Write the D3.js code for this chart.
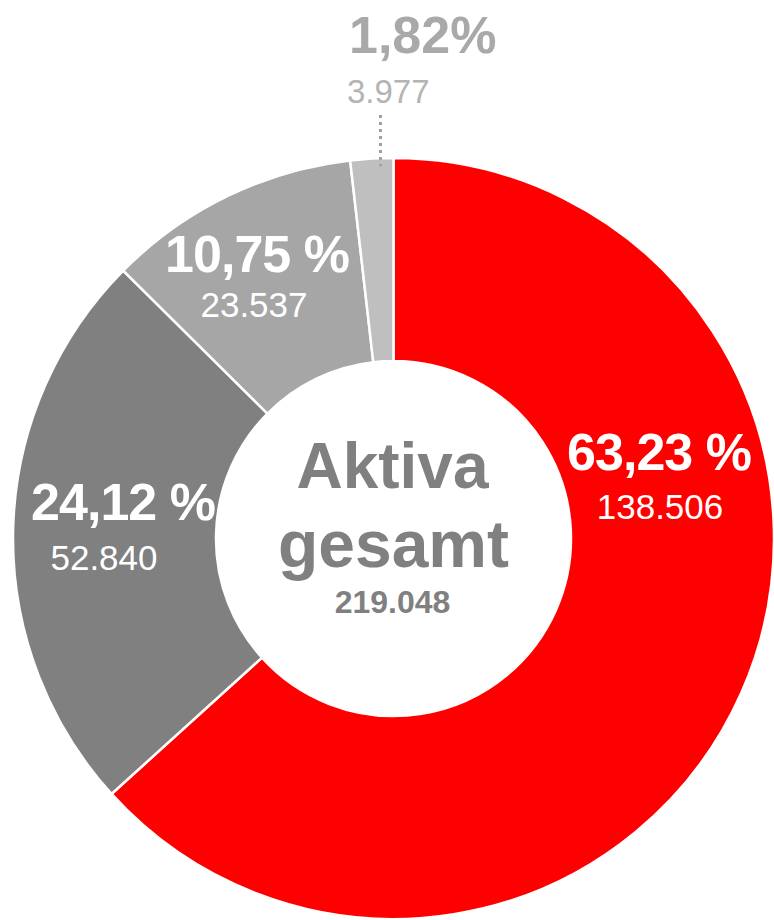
<!DOCTYPE html>
<html>
<head>
<meta charset="utf-8">
<script src="https://cdn.jsdelivr.net/npm/d3@7"></script>
<style>
  body { margin: 0; background: #fff; }
  text { font-family: "Liberation Sans", Arial, Helvetica, sans-serif; }
</style>
</head>
<body>
<div id="chart"></div>
<script>
var svgWidth = 774;
var svgHeight = 920;

// data
var values = [138506, 52840, 23537, 3977];
var percentLabels = ["63,23 %", "24,12 %", "10,75 %", "1,82%"];
var valueLabels = ["138.506", "52.840", "23.537", "3.977"];
var centerTitle = ["Aktiva", "gesamt"];
var centerTotal = "219.048";

var colors = ["#ff0000", "#808080", "#a6a6a6", "#bfbfbf"];

// label placement (percent line, value line)
var labelLayout = [
    { px: 659, py: 470, vx: 660, vy: 519, anchor: "middle", pc: "#fff", vc: "#fff" },
    { px: 123, py: 520, vx: 104, vy: 570, anchor: "middle", pc: "#fff", vc: "#fff" },
    { px: 257, py: 272, vx: 254, vy: 317, anchor: "middle", pc: "#fff", vc: "#fff" },
    { px: 349, py: 53, vx: 347, vy: 103, anchor: "start", pc: "#a9a9a9", vc: "#b4b4b4" }
];

var cx = 393.5, cy = 538.5;
var outerR = 380.5, innerR = 177.5;

var svg = d3.select("#chart")
    .append("svg")
    .attr("width", svgWidth)
    .attr("height", svgHeight);

var chartGroup = svg.append("g")
    .attr("transform", `translate(${cx},${cy})`);

var pie = d3.pie().sort(null).value(d => d);
var arc = d3.arc().innerRadius(innerR).outerRadius(outerR);
var arcs = pie(values);

chartGroup.selectAll("path")
    .data(arcs)
    .enter()
    .append("path")
    .attr("d", arc)
    .attr("fill", (d, i) => colors[i])
    .attr("stroke", "#fff")
    .attr("stroke-width", 2.5)
    .attr("stroke-linejoin", "miter");

// dotted leader for the small slice
var small = arcs[3];
var leaderAngle = small.startAngle + (small.endAngle - small.startAngle) * 0.7;
var lx = Math.round(cx + Math.sin(leaderAngle) * outerR) + 0.5;
var ly = cy - Math.cos(leaderAngle) * outerR;
svg.append("line")
    .attr("x1", lx).attr("x2", lx)
    .attr("y1", 115).attr("y2", ly + 8)
    .attr("stroke", "#a0a0a0")
    .attr("stroke-width", 3)
    .attr("stroke-dasharray", "3,4");

// slice labels
labelLayout.forEach(function(l, i) {
    svg.append("text")
        .attr("x", l.px).attr("y", l.py)
        .attr("text-anchor", l.anchor)
        .attr("fill", l.pc)
        .attr("font-size", i === 3 ? 52 : 52)
        .attr("font-weight", "bold")
        .attr("letter-spacing", i === 3 ? 0 : -1)
        .text(percentLabels[i]);
    svg.append("text")
        .attr("x", l.vx).attr("y", l.vy)
        .attr("text-anchor", l.anchor)
        .attr("fill", l.vc)
        .attr("font-size", i === 3 ? 33 : 35)
        .text(valueLabels[i]);
});

// center
var center = svg.append("g").attr("fill", "#808080").attr("text-anchor", "middle");
center.append("text")
    .attr("x", cx - 1).attr("y", 488)
    .attr("font-size", 64).attr("font-weight", "bold")
    .text(centerTitle[0]);
center.append("text")
    .attr("x", cx).attr("y", 567)
    .attr("font-size", 66).attr("font-weight", "bold")
    .text(centerTitle[1]);
center.append("text")
    .attr("x", cx - 1).attr("y", 613)
    .attr("font-size", 32).attr("font-weight", "bold")
    .text(centerTotal);
</script>
</body>
</html>
